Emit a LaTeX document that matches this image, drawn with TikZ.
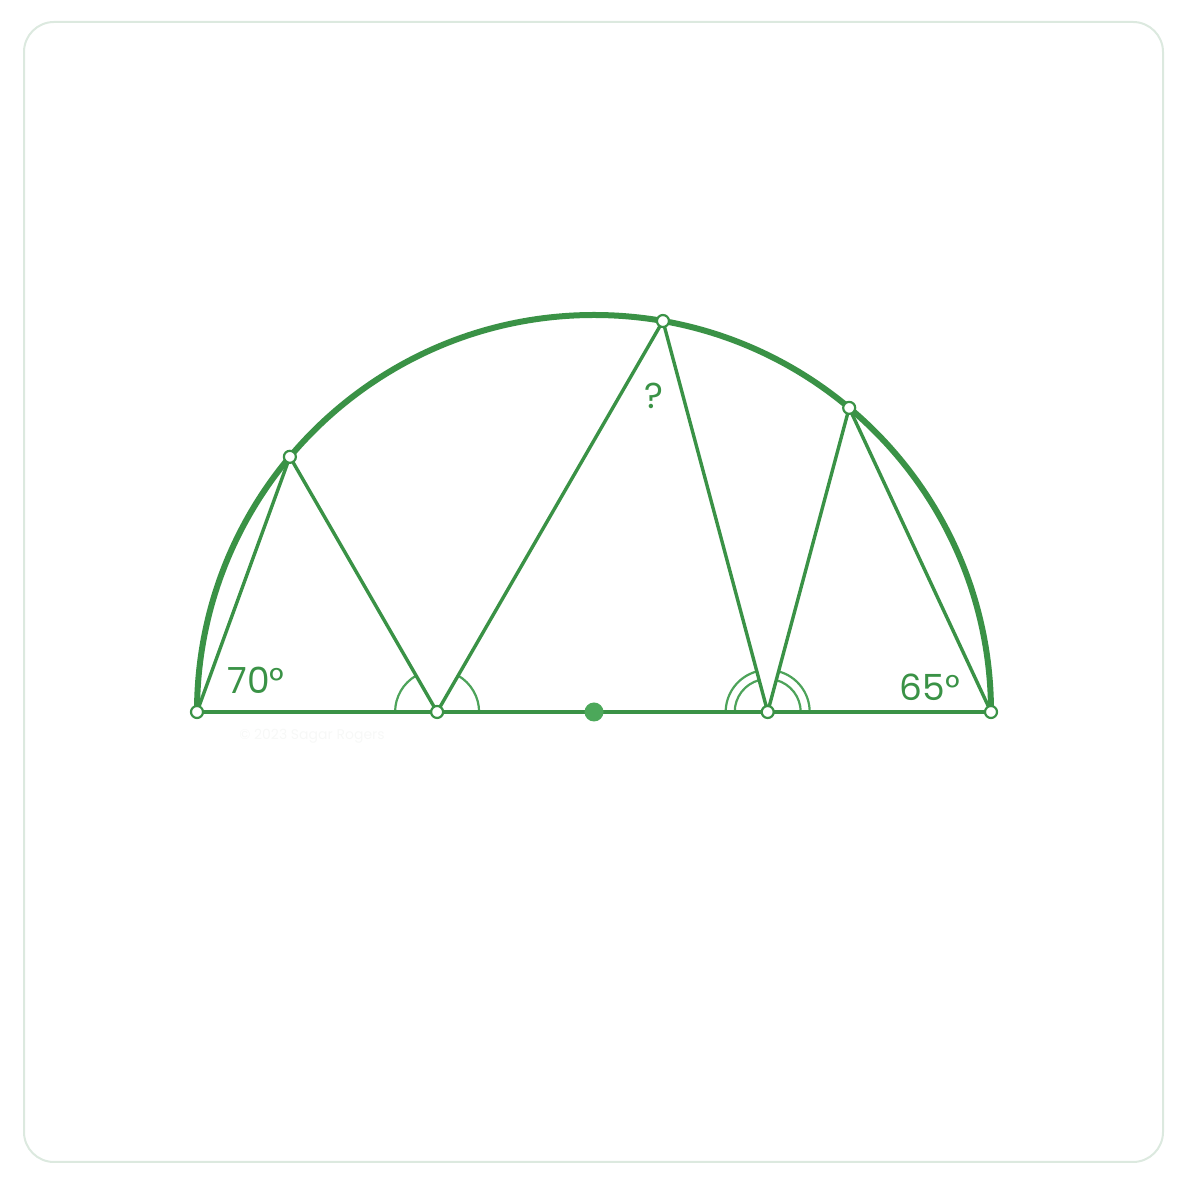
\documentclass[tikz,border=0pt]{standalone}
\usepackage{fontspec}
\setmainfont{Poppins}
\usetikzlibrary{calc}
\definecolor{gmain}{HTML}{3A9246}
\definecolor{glight}{HTML}{4DA35A}
\definecolor{gdot}{HTML}{4CA85A}
\definecolor{gframe}{HTML}{DCE9DF}
\definecolor{wmark}{HTML}{F7F8F7}
\tikzset{
  frame/.style={draw=gframe, line width=2pt, rounded corners=30pt},
  semi/.style={draw=gmain, line width=6pt},
  chord/.style={draw=gmain, line width=3.4pt},
  anglemark/.style={draw=glight, line width=2.2pt},
  pt/.style={circle, draw=gmain, fill=white, line width=2.2pt, minimum size=12pt, inner sep=0pt},
  ctr/.style={circle, fill=gdot, minimum size=19pt, inner sep=0pt},
  lab/.style={text=gmain, font=\fontsize{36}{40}\selectfont, inner sep=0pt},
}
\begin{document}
\begin{tikzpicture}[x=1pt,y=1pt]
\useasboundingbox (0,0) rectangle (1186,1186);
\draw[frame] (24,24) rectangle (1163,1164);
\coordinate (O) at (594,474);
\coordinate (A) at (197,474);
\coordinate (D) at (991,474);
\coordinate (B) at (437.1,474);
\coordinate (C) at (767.7,474);
\coordinate (P1) at ($(O)+(140:397)$);
\coordinate (P2) at ($(O)+(80:397)$);
\coordinate (P3) at ($(O)+(50:397)$);
% angle marks
\draw[anglemark] ($(B)+(180:42)$) arc[start angle=180, end angle=120, radius=42];
\draw[anglemark] ($(B)+(0:42)$) arc[start angle=0, end angle=60, radius=42];
\draw[anglemark] ($(C)+(180:42)$) arc[start angle=180, end angle=105, radius=42];
\draw[anglemark] ($(C)+(180:33)$) arc[start angle=180, end angle=105, radius=33];
\draw[anglemark] ($(C)+(0:42)$) arc[start angle=0, end angle=75, radius=42];
\draw[anglemark] ($(C)+(0:33)$) arc[start angle=0, end angle=75, radius=33];
% diameter and chords
\draw[chord] (A) -- (D);
\draw[chord] (A) -- (P1) -- (B) -- (P2) -- (C) -- (P3) -- (D);
% semicircle
\draw[semi] (A) arc[start angle=180, end angle=0, radius=397];
% points
\node[ctr] (o) at (O) {};
\foreach \p in {A,B,C,D,P1,P2,P3} \node[pt] (n\p) at (\p) {};
% labels
\node[lab] (l70) at (256,506) {70°};
\node[lab] (l65) at (930,499) {65°};
\node[lab] (lq) at (654,790) {?};
\node[text=wmark, font=\fontsize{14}{16}\selectfont, inner sep=0pt] (wm) at (312,450) {© 2023 Sagar Rogers};
\end{tikzpicture}
\end{document}
